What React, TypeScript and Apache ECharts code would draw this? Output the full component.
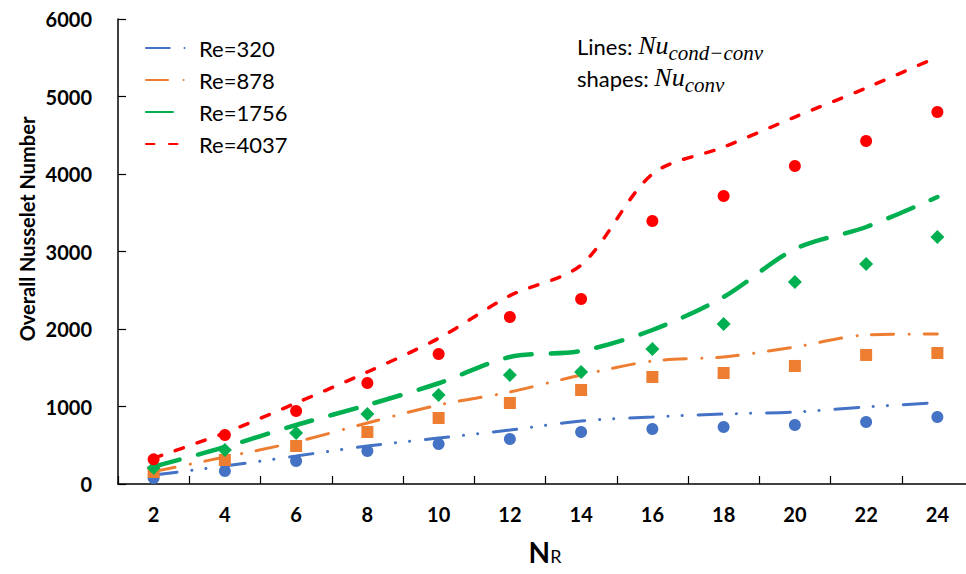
import React, { useEffect, useRef } from "react";
import * as echarts from "echarts";

const NR = ["2", "4", "6", "8", "10", "12", "14", "16", "18", "20", "22", "24"];
const seriesNames = ["Re=320", "Re=878", "Re=1756", "Re=4037"];

// Lines: Nu_cond-conv
const line320 = [115, 232, 361, 490, 593, 697, 813, 865, 903, 929, 994, 1050];
const line878 = [160, 348, 542, 787, 1019, 1187, 1406, 1587, 1639, 1768, 1923, 1935];
const line1756 = [225, 477, 761, 1019, 1300, 1639, 1716, 1987, 2413, 3032, 3316, 3703];
const line4037 = [335, 660, 1045, 1445, 1880, 2430, 2826, 4000, 4348, 4735, 5110, 5510];

// Shapes: Nu_conv
const conv320 = [77, 168, 297, 426, 516, 581, 671, 710, 735, 761, 800, 865];
const conv878 = [155, 310, 490, 671, 852, 1045, 1213, 1381, 1432, 1523, 1665, 1690];
const conv1756 = [206, 439, 658, 903, 1148, 1406, 1445, 1742, 2065, 2606, 2839, 3187];
const conv4037 = [318, 632, 942, 1303, 1677, 2155, 2387, 3394, 3716, 4103, 4426, 4800];

const colors = ["#4472C4", "#ED7D31", "#00B050", "#FF0000"];

export default function App() {
  const ref = useRef<HTMLDivElement>(null);
  useEffect(() => {
    if (!ref.current) return;
    const chart = echarts.init(ref.current, null, { renderer: "svg" });
    const lineData = [line320, line878, line1756, line4037];
    const convData = [conv320, conv878, conv1756, conv4037];
    const widths = [3, 3, 4.5, 3.5];
    const dashes: number[][] = [
      [23.7, 14.8, 0.1, 14, 0.1, 15.8],
      [22, 15.5, 0.1, 14.7],
      [27, 19],
      [8.5, 14.5],
    ];
    const symbols = ["circle", "rect", "diamond", "circle"];
    const symSizes = [12, 12, 14, 12];

    const lineSeries = seriesNames.map((name, i) => ({
      name,
      type: "line",
      data: lineData[i],
      symbol: "none",
      smooth: 0.3,
      z: 2,
      lineStyle: {
        color: colors[i],
        width: widths[i],
        type: dashes[i],
        cap: "round",
      },
      itemStyle: { color: colors[i] },
    }));
    const scatterSeries = seriesNames.map((name, i) => ({
      name: name + " conv",
      type: "scatter",
      data: convData[i],
      symbol: symbols[i],
      symbolSize: symSizes[i],
      z: 3,
      itemStyle: { color: colors[i], opacity: 1 },
    }));

    const font = "Lato, 'Noto Sans', sans-serif";
    const serif = "'Liberation Serif', serif";
    const richAnn = {
      a: { fontFamily: font, fontSize: 22, fill: "#000", verticalAlign: "bottom", padding: [0, 0, 6, 0] },
      b: { fontFamily: serif, fontStyle: "italic", fontSize: 26, fill: "#000", verticalAlign: "bottom", padding: [0, 0, 5, 0] },
      s: { fontFamily: serif, fontStyle: "italic", fontSize: 21, fill: "#000", verticalAlign: "bottom" },
    };
    chart.setOption({
      animation: false,
      backgroundColor: "#ffffff",
      grid: {
        left: 118,
        top: 19,
        width: 855,
        height: 465,
        containLabel: false,
        outerBoundsMode: "none",
      },
      legend: {
        data: seriesNames,
        orient: "vertical",
        left: 140,
        top: 32,
        itemWidth: 42,
        itemHeight: 14,
        itemGap: 10,
        itemStyle: { opacity: 0 },
        textStyle: {
          fontFamily: font,
          fontSize: 22,
          lineHeight: 22,
          color: "#000",
          padding: [0, 0, 0, 6],
        },
      },
      xAxis: {
        type: "category",
        data: NR,
        boundaryGap: true,
        axisLine: { show: true, lineStyle: { color: "#000", width: 1.5 } },
        axisTick: { show: true, inside: true, length: 8, interval: 0, lineStyle: { color: "#000", width: 1.2 } },
        axisLabel: {
          interval: 0,
          margin: 20,
          fontFamily: font,
          fontWeight: "bold",
          fontSize: 20,
          color: "#000",
        },
        splitLine: { show: false },
      },
      yAxis: {
        type: "value",
        min: 0,
        max: 6000,
        interval: 1000,
        axisLine: { show: true, lineStyle: { color: "#000", width: 1.5 } },
        axisTick: { show: true, inside: true, length: 8, lineStyle: { color: "#000", width: 1.2 } },
        axisLabel: {
          margin: 26,
          fontFamily: font,
          fontWeight: "bold",
          fontSize: 20,
          color: "#000",
          formatter: (v: number) => String(v),
        },
        splitLine: { show: false },
      },
      graphic: [
        {
          type: "text",
          x: 27,
          y: 229,
          rotation: Math.PI / 2,
          style: {
            text: "Overall Nusselet Number",
            fontFamily: font,
            fontWeight: "bold",
            fontSize: 20,
            fill: "#000",
            textAlign: "center",
            textVerticalAlign: "middle",
          },
        },
        {
          type: "text",
          x: 545,
          y: 566,
          style: {
            text: "{n|N}{r|R}",
            textAlign: "center",
            textVerticalAlign: "bottom",
            rich: {
              n: { fontFamily: font, fontWeight: "bold", fontSize: 28, fill: "#000", verticalAlign: "bottom" },
              r: { fontFamily: font, fontSize: 18, fill: "#000", verticalAlign: "bottom", padding: [0, 0, 1, 0] },
            },
          },
        },
        {
          type: "text",
          x: 577,
          y: 63,
          style: {
            text: "{a|Lines: }{b|Nu}{s|cond−conv}",
            textAlign: "left",
            textVerticalAlign: "bottom",
            rich: richAnn,
          },
        },
        {
          type: "text",
          x: 577,
          y: 95,
          style: {
            text: "{a|shapes: }{b|Nu}{s|conv}",
            textAlign: "left",
            textVerticalAlign: "bottom",
            rich: richAnn,
          },
        },
      ],
      series: [...lineSeries, ...scatterSeries],
    });
    return () => chart.dispose();
  }, []);
  return <div ref={ref} style={{ width: 966, height: 574, position: "absolute", left: 0, top: 0 }} />;
}
